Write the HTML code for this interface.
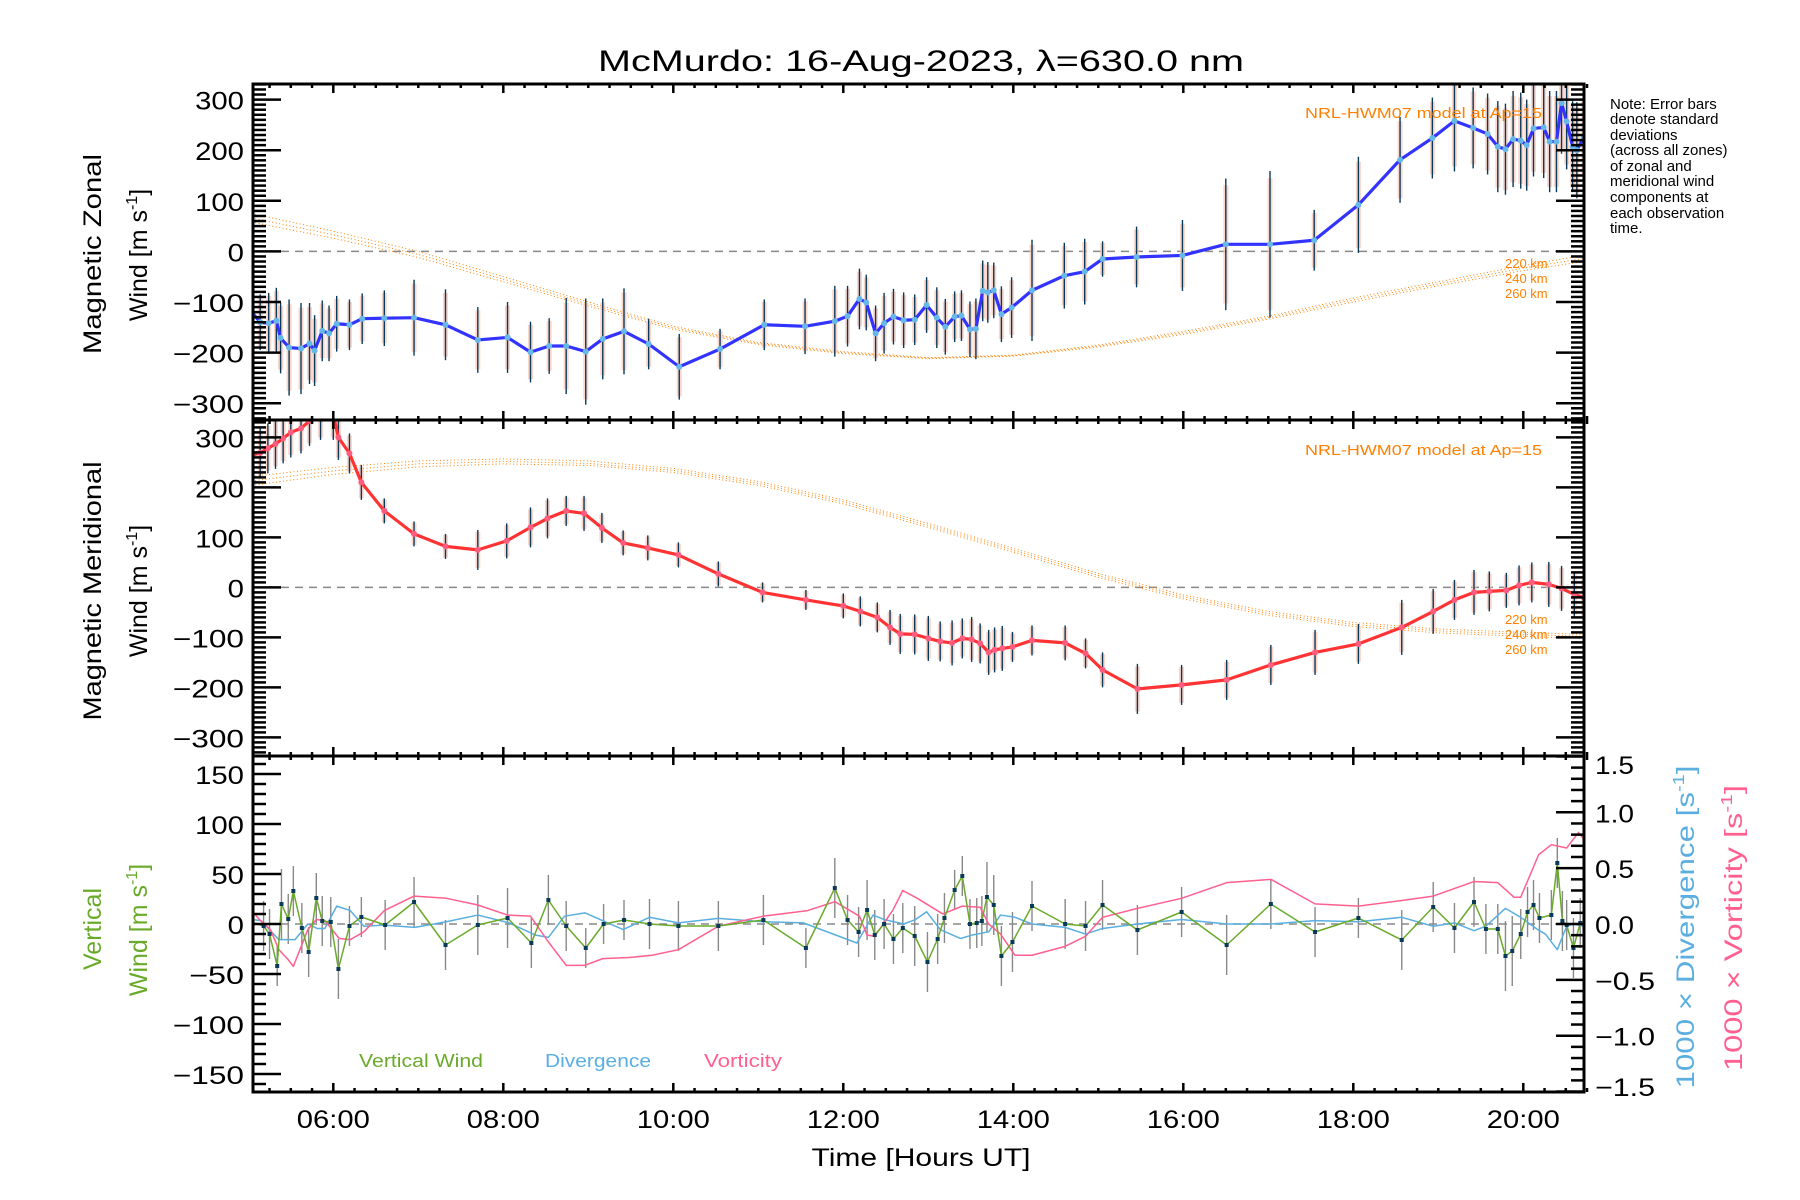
<!DOCTYPE html>
<html><head><meta charset="utf-8"><title>McMurdo winds</title>
<style>
html,body{margin:0;padding:0;background:#fff;}
svg{display:block;font-family:"Liberation Sans",sans-serif;}
</style></head>
<body>
<svg id="chart" xmlns="http://www.w3.org/2000/svg" width="1800" height="1200" viewBox="0 0 1800 1200">
<defs>
<clipPath id="c1"><rect x="253" y="84" width="1331" height="336"/></clipPath>
<clipPath id="c2"><rect x="253" y="420" width="1331" height="336"/></clipPath>
<clipPath id="c3"><rect x="253" y="756" width="1331" height="336"/></clipPath>
</defs>
<text x="921" y="71" font-size="30" text-anchor="middle" textLength="646" lengthAdjust="spacingAndGlyphs">McMurdo: 16-Aug-2023, λ=630.0 nm</text>
<g id="g1" clip-path="url(#c1)"></g>
<g id="g2" clip-path="url(#c2)"></g>
<g id="g3" clip-path="url(#c3)"></g>
<g id="axes"></g>
<g font-size="25">
<text transform="translate(101,254) rotate(-90)" text-anchor="middle" textLength="200" lengthAdjust="spacingAndGlyphs">Magnetic Zonal</text>
<text transform="translate(147,255) rotate(-90)" text-anchor="middle">Wind [m s<tspan font-size="16" dy="-10">-1</tspan><tspan dy="10">]</tspan></text>
<text transform="translate(101,591) rotate(-90)" text-anchor="middle" textLength="259" lengthAdjust="spacingAndGlyphs">Magnetic Meridional</text>
<text transform="translate(147,591) rotate(-90)" text-anchor="middle">Wind [m s<tspan font-size="16" dy="-10">-1</tspan><tspan dy="10">]</tspan></text>
<text fill="#6aaa2a" transform="translate(101,929) rotate(-90)" text-anchor="middle">Vertical</text>
<text fill="#6aaa2a" transform="translate(147,930) rotate(-90)" text-anchor="middle">Wind [m s<tspan font-size="16" dy="-10">-1</tspan><tspan dy="10">]</tspan></text>
<text fill="#5aaee0" transform="translate(1694,927) rotate(-90)" text-anchor="middle" textLength="323" lengthAdjust="spacingAndGlyphs">1000 × Divergence [s<tspan font-size="16" dy="-10">-1</tspan><tspan dy="10">]</tspan></text>
<text fill="#ff6090" transform="translate(1742,928) rotate(-90)" text-anchor="middle" textLength="286" lengthAdjust="spacingAndGlyphs">1000 × Vorticity [s<tspan font-size="16" dy="-10">-1</tspan><tspan dy="10">]</tspan></text>
</g>
<text x="921" y="1166" font-size="25" text-anchor="middle" textLength="219" lengthAdjust="spacingAndGlyphs">Time [Hours UT]</text>
<g font-size="15">
<text x="1610" y="109">Note: Error bars</text>
<text x="1610" y="124">denote standard</text>
<text x="1610" y="140">deviations</text>
<text x="1610" y="155">(across all zones)</text>
<text x="1610" y="171">of zonal and</text>
<text x="1610" y="186">meridional wind</text>
<text x="1610" y="202">components at</text>
<text x="1610" y="218">each observation</text>
<text x="1610" y="233">time.</text>
</g>
<g fill="#ff8000" font-size="15">
<text x="1542" y="118" text-anchor="end" textLength="237" lengthAdjust="spacingAndGlyphs">NRL-HWM07 model at Ap=15</text>
<text x="1542" y="455" text-anchor="end" textLength="237" lengthAdjust="spacingAndGlyphs">NRL-HWM07 model at Ap=15</text>
<text x="1505" y="268" font-size="13">220 km</text>
<text x="1505" y="283" font-size="13">240 km</text>
<text x="1505" y="298" font-size="13">260 km</text>
<text x="1505" y="624" font-size="13">220 km</text>
<text x="1505" y="639" font-size="13">240 km</text>
<text x="1505" y="654" font-size="13">260 km</text>
</g>
<g font-size="18">
<text x="359" y="1067" fill="#6aaa2a" textLength="124" lengthAdjust="spacingAndGlyphs">Vertical Wind</text>
<text x="545" y="1067" fill="#5aaee0" textLength="106" lengthAdjust="spacingAndGlyphs">Divergence</text>
<text x="704" y="1067" fill="#ff6090" textLength="78" lengthAdjust="spacingAndGlyphs">Vorticity</text>
</g>
</svg>
<script>
const zonalHours=[5.04,5.14,5.24,5.33,5.38,5.48,5.62,5.72,5.78,5.87,5.95,6.04,6.19,6.34,6.60,6.95,7.32,7.70,8.05,8.32,8.54,8.74,8.97,9.17,9.42,9.71,10.07,10.55,11.07,11.55,11.90,12.05,12.19,12.27,12.38,12.48,12.59,12.71,12.84,12.98,13.10,13.20,13.31,13.39,13.49,13.56,13.64,13.70,13.77,13.86,13.98,14.22,14.60,14.84,15.05,15.45,15.99,16.50,17.02,17.54,18.06,18.55,18.93,19.19,19.41,19.58,19.70,19.79,19.88,19.97,20.04,20.12,20.24,20.31,20.39,20.45,20.51,20.58,20.63,20.71];
const zonalVals=[-120,-140,-142,-137,-171,-190,-192,-182,-196,-157,-162,-143,-145,-133,-132,-131,-145,-175,-170,-199,-187,-187,-198,-173,-158,-183,-228,-193,-145,-148,-138,-128,-94,-101,-162,-142,-129,-136,-135,-106,-131,-149,-129,-127,-154,-153,-78,-81,-77,-124,-111,-77,-48,-40,-15,-11,-8,14,14,22,92,181,224,258,244,232,207,202,222,219,210,243,245,217,217,293,257,207,200,225];
const zonalErr=[60,55,60,65,70,95,90,80,70,60,55,55,50,50,55,75,70,65,70,60,55,95,105,80,85,50,65,40,50,55,70,60,60,55,55,60,55,55,50,55,60,55,50,50,55,60,60,60,55,55,60,100,65,65,35,60,70,130,145,60,95,85,80,100,80,80,90,90,95,95,90,95,100,100,100,100,95,90,95,80];
const meridHours=[5.04,5.14,5.23,5.32,5.41,5.50,5.62,5.72,5.85,6.00,6.06,6.19,6.33,6.60,6.95,7.32,7.70,8.04,8.32,8.52,8.74,8.95,9.16,9.41,9.70,10.06,10.53,11.05,11.56,12.00,12.20,12.40,12.55,12.67,12.84,13.00,13.14,13.28,13.40,13.51,13.61,13.71,13.78,13.87,13.99,14.22,14.61,14.85,15.05,15.46,15.98,16.51,17.03,17.55,18.06,18.57,18.94,19.19,19.42,19.60,19.80,19.95,20.10,20.30,20.45,20.60,20.71];
const meridVals=[264,269,278,287,298,310,318,333,345,345,300,268,210,153,107,82,75,93,120,138,153,148,119,89,79,65,27,-10,-25,-37,-48,-60,-80,-93,-94,-102,-108,-111,-102,-104,-112,-130,-125,-122,-119,-106,-111,-132,-165,-203,-195,-185,-155,-130,-113,-80,-48,-25,-10,-8,-6,4,10,6,-2,-14,-20];
const meridErr=[50,50,50,50,50,50,50,50,50,50,45,40,35,25,25,25,40,35,40,40,30,35,30,25,25,25,25,20,20,25,30,30,35,40,40,45,40,45,40,45,40,45,45,45,30,30,35,30,35,50,40,40,40,45,40,55,45,40,45,40,35,40,40,45,45,45,40];
const vertHours=[5.04,5.18,5.25,5.34,5.39,5.47,5.53,5.63,5.71,5.80,5.87,5.97,6.06,6.19,6.33,6.61,6.95,7.32,7.70,8.05,8.33,8.53,8.74,8.97,9.18,9.42,9.72,10.06,10.53,11.06,11.56,11.90,12.05,12.18,12.28,12.37,12.48,12.59,12.70,12.84,12.99,13.11,13.19,13.31,13.40,13.49,13.57,13.63,13.69,13.77,13.86,13.99,14.22,14.61,14.85,15.05,15.46,15.98,16.51,17.03,17.55,18.06,18.57,18.94,19.19,19.42,19.56,19.70,19.79,19.87,19.97,20.05,20.12,20.19,20.33,20.40,20.46,20.51,20.59,20.67];
const vertVals=[2,-2,-10,-42,20,5,33,-4,-28,26,3,2,-45,-2,7,-1,22,-21,-1,6,-19,24,-2,-24,0,4,0,-2,-2,4,-24,36,4,-8,14,-11,0,-15,-4,-12,-38,-15,6,34,48,0,1,3,27,19,-32,-18,18,0,-2,19,-6,12,-21,20,-8,6,-16,17,-4,22,-5,-5,-32,-27,-10,12,19,6,9,61,3,-1,-24,1];
const vertErr=[20,25,25,20,35,25,25,25,25,25,25,25,30,20,20,25,25,25,30,30,25,25,25,20,20,20,25,25,25,25,20,30,25,25,30,25,25,25,25,30,30,25,25,20,20,25,25,25,35,30,30,30,25,25,25,25,25,25,30,25,25,20,30,25,25,25,25,25,35,35,25,25,25,25,25,25,30,25,30,25];
const divHours=[5.04,5.15,5.36,5.55,5.70,5.81,5.90,6.04,6.20,6.36,6.60,6.96,7.33,7.70,8.07,8.38,8.53,8.72,8.96,9.20,9.41,9.72,10.06,10.53,11.06,11.53,12.16,12.35,12.48,12.71,12.85,12.98,13.14,13.38,13.51,13.71,13.85,14.02,14.22,14.61,14.85,15.05,15.46,15.98,16.51,17.03,17.55,18.06,18.57,18.94,19.19,19.42,19.56,19.79,19.97,20.17,20.26,20.40,20.51,20.59,20.71];
const divVals=[0.04,0.03,-0.14,-0.14,0.0,-0.04,-0.04,0.16,0.12,-0.02,-0.01,-0.03,0.02,0.08,0.01,-0.1,-0.12,0.07,0.1,0.02,-0.05,0.06,0.01,0.05,0.02,0.01,-0.17,0.08,0.04,0.0,0.04,0.11,-0.05,-0.13,-0.1,-0.07,0.08,0.06,0.0,-0.03,-0.09,-0.04,0.0,0.04,0.0,0.0,0.03,0.02,0.06,-0.02,0.01,-0.06,-0.02,0.14,0.06,-0.05,-0.09,-0.23,-0.02,0.0,-0.02];
const vortHours=[5.04,5.13,5.26,5.36,5.47,5.53,5.70,5.80,5.90,6.07,6.20,6.36,6.60,6.95,7.33,7.70,8.05,8.32,8.53,8.74,8.96,9.17,9.48,9.75,10.06,10.53,11.06,11.58,11.90,12.19,12.28,12.37,12.58,12.70,12.87,13.17,13.40,13.61,13.71,13.85,14.02,14.22,14.61,14.85,15.05,15.46,15.98,16.51,17.03,17.55,18.06,18.57,18.94,19.42,19.70,19.89,19.97,20.18,20.33,20.51,20.65,20.71];
const vortVals=[0.12,0.04,-0.05,-0.23,-0.32,-0.38,-0.05,0.04,0.03,-0.13,-0.14,-0.07,0.12,0.25,0.23,0.17,0.08,0.07,-0.16,-0.37,-0.37,-0.31,-0.3,-0.28,-0.23,-0.02,0.07,0.12,0.2,0.07,-0.1,-0.11,0.12,0.3,0.23,0.09,0.16,0.15,0.0,-0.09,-0.28,-0.28,-0.2,-0.11,0.06,0.14,0.23,0.37,0.4,0.18,0.16,0.21,0.25,0.38,0.37,0.24,0.24,0.62,0.71,0.68,0.82,0.76];
const modelHours=[5.04,6,7,8,9,10,11,12,13,14,15,16,17,18,19,20,20.71];
const zonal220=[75,40,0,-50,-100,-148,-180,-198,-210,-205,-185,-158,-128,-92,-60,-28,-8];
const zonal240=[66,33,-6,-55,-104,-151,-182,-200,-211,-206,-187,-161,-131,-96,-64,-33,-14];
const zonal260=[58,26,-12,-60,-108,-154,-184,-202,-212,-207,-189,-164,-134,-100,-68,-38,-20];
const merid220=[222,240,253,257,253,238,212,175,128,78,28,-15,-48,-70,-83,-90,-94];
const merid240=[213,233,247,252,248,234,208,171,124,74,24,-19,-52,-74,-87,-94,-98];
const merid260=[204,226,241,247,244,230,204,167,120,70,20,-23,-56,-78,-91,-98,-102];
const hourTicks=["06:00","08:00","10:00","12:00","14:00","16:00","18:00","20:00"];
const windTicks=[-300,-200,-100,0,100,200,300];
const vertTicks=[-150,-100,-50,0,50,100,150];
const rightTicks=["-1.5","-1.0","-0.5","0.0","0.5","1.0","1.5"];

const NS="http://www.w3.org/2000/svg";
const X=h=>333.3+(h-6)*85;
const Y1=v=>251.4-v*0.506;
const Y2=v=>587.4-v*0.5;
const Y3=v=>924-v*1.0;
const Y3r=v=>924-v*111.7;
function mk(tag,parent,attrs){const e=document.createElementNS(NS,tag);for(const k in attrs)e.setAttribute(k,attrs[k]);parent.appendChild(e);return e;}
const g1=document.getElementById('g1'),g2=document.getElementById('g2'),g3=document.getElementById('g3'),ax=document.getElementById('axes');

function zeroLine(g,y){const l=mk('line',g,{x1:253,x2:1584,y1:y,y2:y,stroke:'#888','stroke-width':1.5,'stroke-dasharray':'8 6'});

}
zeroLine(g1,Y1(0));zeroLine(g2,Y2(0));zeroLine(g3,Y3(0));

function model(g,Y,arr,name){const p=mk('polyline',g,{points:modelHours.map((h,i)=>X(h)+','+Y(arr[i])).join(' '),fill:'none',stroke:'#ff8000','stroke-width':1,'stroke-dasharray':'1 2.5'});

}
model(g1,Y1,zonal220,'zonal-model-220km');model(g1,Y1,zonal240,'zonal-model-240km');model(g1,Y1,zonal260,'zonal-model-260km');
model(g2,Y2,merid220,'meridional-model-220km');model(g2,Y2,merid240,'meridional-model-240km');model(g2,Y2,merid260,'meridional-model-260km');

function errs(g,Y,hours,vals,err,name,col,faint){hours.forEach((h,i)=>{
 if(faint){const f=mk('line',g,{x1:X(h),x2:X(h),y1:Y(vals[i]+err[i]*0.9),y2:Y(vals[i]-err[i]*0.9),stroke:'#f9c4b4','stroke-width':5,opacity:0.7});
 
 }
 const l=mk('line',g,{x1:X(h),x2:X(h),y1:Y(vals[i]+err[i]),y2:Y(vals[i]-err[i]),stroke:col,'stroke-width':1.4});
 
 });}
errs(g1,Y1,zonalHours,zonalVals,zonalErr,'zonal-error-bar','#0a3a5a',true);
errs(g2,Y2,meridHours,meridVals,meridErr,'meridional-error-bar','#0a3a5a',true);
errs(g3,Y3,vertHours,vertVals,vertErr,'vertical-error-bar','#888',false);

function line(g,Y,hours,vals,col,w,name){const p=mk('polyline',g,{points:hours.map((h,i)=>X(h)+','+Y(vals[i])).join(' '),fill:'none',stroke:col,'stroke-width':w,'stroke-linejoin':'round'});

}
line(g1,Y1,zonalHours,zonalVals,'#3333ff',3.2,'zonal-wind-line');
line(g2,Y2,meridHours,meridVals,'#ff3333',3.2,'meridional-wind-line');
line(g3,Y3r,divHours,divVals,'#5aaee0',1.5,'divergence-line');
line(g3,Y3r,vortHours,vortVals,'#ff6090',1.5,'vorticity-line');
line(g3,Y3,vertHours,vertVals,'#6aaa2a',1.5,'vertical-wind-line');

zonalHours.forEach((h,i)=>{const c=mk('circle',g1,{cx:X(h),cy:Y1(zonalVals[i]),r:3,fill:'#66b8e8'});

});
meridHours.forEach((h,i)=>{const c=mk('circle',g2,{cx:X(h),cy:Y2(meridVals[i]),r:3,fill:'#ff5c80'});

});
vertHours.forEach((h,i)=>{const c=mk('rect',g3,{x:X(h)-2,y:Y3(vertVals[i])-2,width:4,height:4,fill:'#0a3a5a'});

});

[[84,420],[420,756],[756,1092]].forEach((p,k)=>{const r=mk('rect',ax,{x:253,y:p[0],width:1331,height:p[1]-p[0],fill:'none',stroke:'#000','stroke-width':3});

});
[84,420,756,1092].forEach(yb=>{for(let m=0;m*0.25+5<=20.75;m++){const h=5+m*0.25;if(h<5.04)continue;const major=(m%8===4);const L=major?9:4;
 if(yb<1092){mk('line',ax,{x1:X(h),x2:X(h),y1:yb,y2:yb+L,stroke:'#000','stroke-width':2.5});}
 if(yb>84){mk('line',ax,{x1:X(h),x2:X(h),y1:yb,y2:yb-L,stroke:'#000','stroke-width':2.5});}}});
hourTicks.forEach((t,i)=>{const tx=mk('text',ax,{x:X(6+2*i),y:1128,'font-size':25,'text-anchor':'middle',textLength:73,lengthAdjust:'spacingAndGlyphs'});tx.textContent=t;

});
function ytL(Y,lo,hi,step,minor,MJ,mn,side){for(let i=0;lo+i*minor<=hi+1e-9;i++){const v=lo+i*minor;const y=Y(v);const major=Math.abs(v/step-Math.round(v/step))<1e-6;const L=major?MJ:mn;
 if(side==='L')mk('line',ax,{x1:253,x2:253+L,y1:y,y2:y,stroke:'#000','stroke-width':2.5});else mk('line',ax,{x1:1584,x2:1584-L,y1:y,y2:y,stroke:'#000','stroke-width':2.5});}}
ytL(Y1,-330,330,100,10,28,13,'L');ytL(Y1,-330,330,100,10,28,13,'R');
ytL(Y2,-330,330,100,10,28,13,'L');ytL(Y2,-330,330,100,10,28,13,'R');
ytL(Y3,-160,160,50,10,28,13,'L');ytL(Y3r,-1.5,1.5,0.5,0.1,28,13,'R');
function ylab(Y,t,v,name){const s=String(t).replace('-','−');const tx=mk('text',ax,{x:244,y:Y(v)+10,'font-size':25,'text-anchor':'end',textLength:s.length*16.3+(s[0]==='−'?6:0),lengthAdjust:'spacingAndGlyphs'});tx.textContent=s;

}
windTicks.forEach(v=>ylab(Y1,v,v,'zonal-y-tick-label'));
windTicks.forEach(v=>ylab(Y2,v,v,'meridional-y-tick-label'));
vertTicks.forEach(v=>ylab(Y3,v,v,'vertical-y-tick-label'));
rightTicks.forEach(t=>{const v=parseFloat(t);const s=t.replace('-','−');let y=Y3r(v)+10;if(v===1.5)y=774;if(v===-1.5)y=1096;
 const tx=mk('text',ax,{x:1595,y:y,'font-size':25,textLength:s.length*13+(s[0]==='−'?8:0),lengthAdjust:'spacingAndGlyphs'});tx.textContent=s;
 
 });
</script>
</body></html>
